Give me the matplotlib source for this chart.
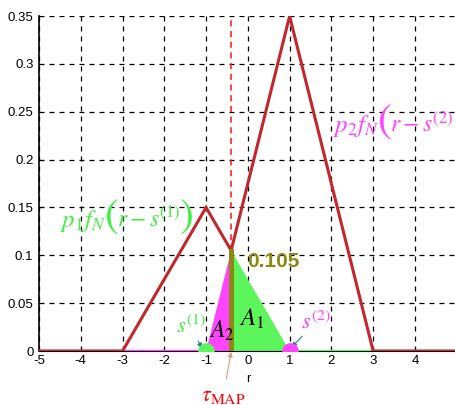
import matplotlib
matplotlib.use('Agg')
import matplotlib.pyplot as plt

plt.rcParams['mathtext.fontset'] = 'stix'
plt.rcParams['font.family'] = ['Liberation Sans', 'DejaVu Sans']
plt.rcParams['axes.unicode_minus'] = False

# envelope max(p1 fN(r-s1), p2 fN(r-s2))
env_r = [-5, -3, -1, -0.4, 1, 3, 5]
env_y = [0, 0, 0.15, 0.105, 0.35, 0, 0]

s1, s2 = -1, 1
tau_map = -0.4
tau_val = 0.105

# shaded regions
a2_r = [-1, -0.4, -0.4]
a2_y = [0, 0.105, 0]
a1_r = [-0.4, -0.4, 1]
a1_y = [0, 0.105, 0]

xticks = [-5, -4, -3, -2, -1, 0, 1, 2, 3, 4]
yticks = [0, 0.05, 0.1, 0.15, 0.2, 0.25, 0.3, 0.35]
ytick_labels = ['0', '0.05', '0.1', '0.15', '0.2', '0.25', '0.3', '0.35']

red = '#c0282e'
green = '#5cf55c'
lgreen = '#44ee44'
magenta = '#ff44ff'
olive = '#8a8a10'
teal = '#2e7d8c'

fig = plt.figure(figsize=(4.55, 4.05), dpi=100)
ax = fig.add_axes([0.0857, 0.1333, 0.918, 0.827])

ax.fill(a2_r, a2_y, color=magenta, lw=0, zorder=2)
ax.fill(a1_r, a1_y, color=green, lw=0, zorder=2)

# baselines
ax.plot([-5, s1], [0, 0], color=magenta, lw=2.5, zorder=3)
ax.plot([s2, 5], [0, 0], color=green, lw=2.5, zorder=3)

ax.plot(env_r, env_y, color=red, lw=2.2, zorder=4, solid_joinstyle='miter')

ax.plot([tau_map, tau_map], [tau_val, 0.35], color='#ff1010', lw=1.1,
        ls=(0, (4, 3)), zorder=3)
ax.plot([tau_map, tau_map], [0, tau_val], color=olive, lw=3.6, zorder=5)

ax.plot([s1], [0], 'o', color=green, ms=12, mec='none', zorder=6)
ax.plot([s2], [0], 'o', color=magenta, ms=12, mec='none', zorder=6)

ax.set_xlim(-5, 5)
ax.set_ylim(0, 0.35)
ax.set_xticks(xticks)
ax.set_yticks(yticks)
ax.set_yticklabels(ytick_labels)
ax.tick_params(labelsize=9.5, direction='in', length=3)
ax.tick_params(axis='x', pad=3)
ax.tick_params(axis='y', pad=4)
ax.grid(True, color='black', ls=(0, (4, 4)), lw=0.9)
for side in ['top', 'right']:
    ax.spines[side].set_visible(False)
ax.spines['left'].set_linewidth(1.2)
ax.set_xlabel('r', fontsize=9.5, labelpad=4)

# curve labels, tall brackets drawn as separate glyphs
ax.text(-4.5, 0.1296, r'$p_1 f_N$', color=lgreen, fontsize=18, ha='left', va='baseline')
ax.text(-3.44, 0.1296, r'$($', color=lgreen, fontsize=30, ha='left', va='baseline')
ax.text(-3.14, 0.1296, r'$r - s^{(1)}$', color=lgreen, fontsize=17, ha='left', va='baseline')
ax.text(-1.66, 0.1296, r'$)$', color=lgreen, fontsize=30, ha='left', va='baseline')

ax.text(2.03, 0.2288, r'$p_2 f_N$', color=magenta, fontsize=18, ha='left',
        va='baseline', clip_on=False)
ax.text(3.1, 0.2288, r'$($', color=magenta, fontsize=30, ha='left',
        va='baseline', clip_on=False)
ax.text(3.4, 0.2288, r'$r - s^{(2)}$', color=magenta, fontsize=17, ha='left',
        va='baseline', clip_on=False)
ax.text(4.95, 0.2288, r'$)$', color=magenta, fontsize=30, ha='left',
        va='baseline', clip_on=False)

ax.text(-0.02, 0.094, '0.105', color=olive, fontsize=15, fontweight='bold',
        ha='left', va='center')
ax.text(-0.2, 0.034, r'$A_1$', fontsize=18, ha='left', va='center', zorder=7)
ax.text(-0.93, 0.021, r'$A_2$', fontsize=17, ha='left', va='center', zorder=7)

ax.annotate(r'$s^{(1)}$', xy=(s1 - 0.1, 0.003), xytext=(-1.72, 0.025),
            color=lgreen, fontsize=16, ha='left', va='center',
            arrowprops=dict(arrowstyle='-|>', color=teal, lw=0.8,
                            mutation_scale=7, shrinkA=0, shrinkB=0))
ax.annotate(r'$s^{(2)}$', xy=(s2 + 0.05, 0.004), xytext=(1.27, 0.03),
            color=magenta, fontsize=16, ha='left', va='center',
            arrowprops=dict(arrowstyle='-|>', color=teal, lw=0.8,
                            mutation_scale=7, shrinkA=0, shrinkB=0))
ax.annotate(r'$\tau_{\mathrm{MAP}}$', xy=(tau_map, -0.001), xytext=(-1.12, -0.046),
            color='red', fontsize=16, ha='left', va='center',
            annotation_clip=False,
            arrowprops=dict(arrowstyle='-|>', color='#e09a80', lw=0.8,
                            mutation_scale=7, shrinkA=2, shrinkB=0))

fig.savefig('out.png', dpi=100)
